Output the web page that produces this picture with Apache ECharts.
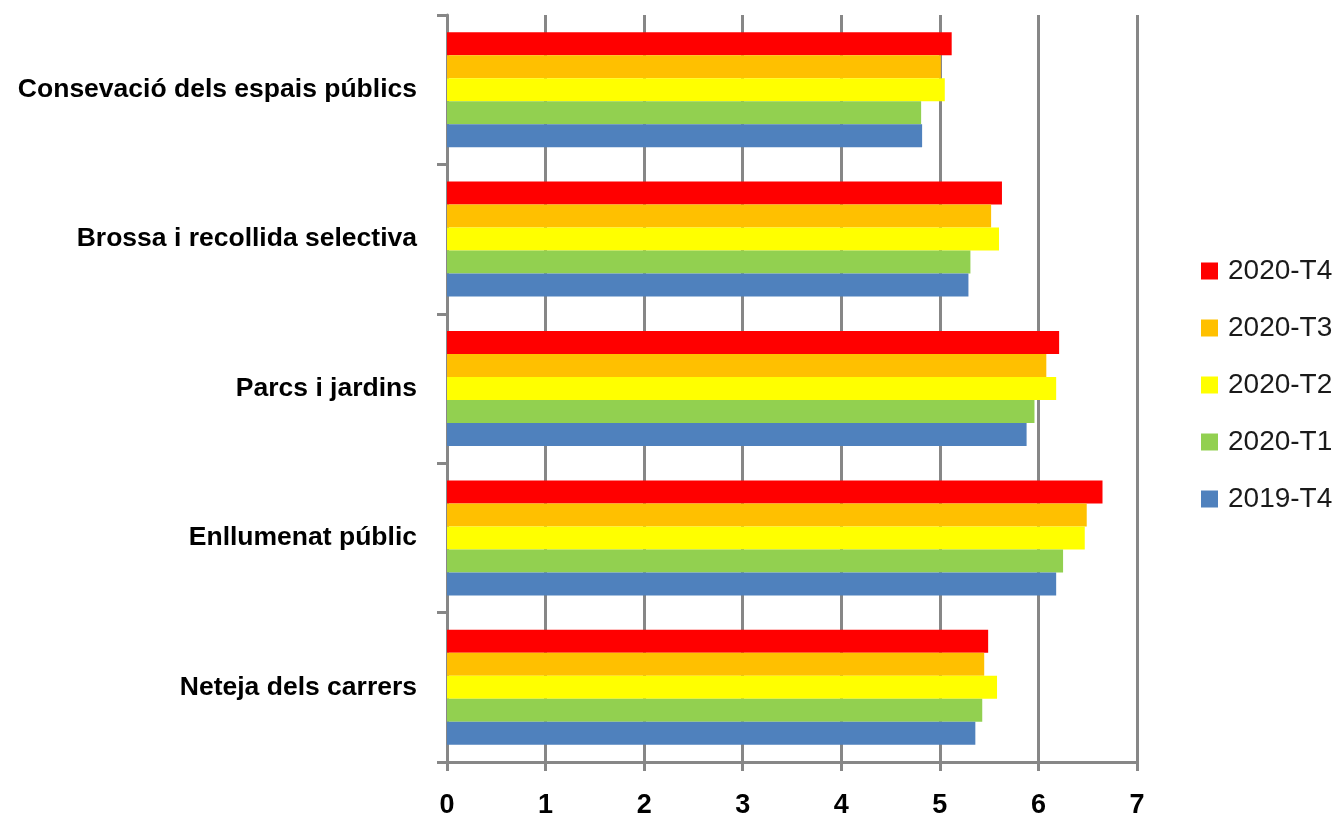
<!DOCTYPE html>
<html>
<head>
<meta charset="utf-8">
<script src="https://cdn.jsdelivr.net/npm/echarts@6/dist/echarts.min.js"></script>
<style>
  html, body { margin: 0; padding: 0; background: #fff; }
  #chart { width: 1334px; height: 819px; }
</style>
</head>
<body>
<div id="chart"></div>
<script>
// Categories listed bottom to top along the vertical axis
const categories = [
  'Neteja dels carrers',
  'Enllumenat públic',
  'Parcs i jardins',
  'Brossa i recollida selectiva',
  'Consevació dels espais públics'
];

// Ratings per period, same order as categories
const v2019T4 = [5.36, 6.18, 5.88, 5.29, 4.82];
const v2020T1 = [5.43, 6.25, 5.96, 5.31, 4.81];
const v2020T2 = [5.58, 6.47, 6.18, 5.60, 5.05];
const v2020T3 = [5.45, 6.49, 6.08, 5.52, 5.01];
const v2020T4 = [5.49, 6.65, 6.21, 5.63, 5.12];

// Newest period first: it sits at the top of each group and of the legend
const seriesNames = ['2020-T4', '2020-T3', '2020-T2', '2020-T1', '2019-T4'];
const seriesValues = [v2020T4, v2020T3, v2020T2, v2020T1, v2019T4];
const seriesColors = ['#FF0000', '#FFC000', '#FFFF00', '#92D050', '#4F81BD'];

const xTicks = [0, 1, 2, 3, 4, 5, 6, 7];

const axisGray = '#878787';
const fontFamily = '"Liberation Sans", Arial, sans-serif';

const chart = echarts.init(document.getElementById('chart'), null, { renderer: 'canvas' });

chart.setOption({
  animation: false,
  backgroundColor: '#ffffff',
  grid: { left: 447, right: 197, top: 15, bottom: 54, containLabel: false },
  legend: {
    orient: 'vertical',
    left: 1196,
    top: 252,
    itemWidth: 17,
    itemHeight: 17,
    itemGap: 29,
    icon: 'rect',
    data: seriesNames,
    textStyle: {
      fontFamily: fontFamily,
      fontSize: 28,
      color: '#1a1a1a',
      lineHeight: 28,
      padding: [0, 0, 0, 5]
    }
  },
  xAxis: {
    type: 'value',
    min: xTicks[0],
    max: xTicks[xTicks.length - 1],
    interval: 1,
    axisLine: { show: true, lineStyle: { color: axisGray, width: 3 } },
    axisTick: { show: true, length: 9, lineStyle: { color: axisGray, width: 3 } },
    splitLine: { show: true, lineStyle: { color: axisGray, width: 3 } },
    axisLabel: {
      margin: 30,
      fontFamily: fontFamily,
      fontSize: 27,
      fontWeight: 'bold',
      color: '#000'
    }
  },
  yAxis: {
    type: 'category',
    data: categories,
    axisLine: { show: true, lineStyle: { color: axisGray, width: 3 } },
    axisTick: { show: true, length: 10, alignWithLabel: false, lineStyle: { color: axisGray, width: 3 } },
    axisLabel: {
      margin: 30,
      fontFamily: fontFamily,
      fontSize: 26.5,
      fontWeight: 'bold',
      color: '#000',
      verticalAlign: 'middle',
      lineHeight: 34,
      padding: [8, 0, 0, 0]
    }
  },
  series: seriesNames.map((name, i) => ({
    name: name,
    type: 'bar',
    z: 10,
    data: seriesValues[i],
    barGap: '0%',
    barCategoryGap: '23%',
    itemStyle: { color: seriesColors[i], opacity: 1, borderWidth: 0 }
  }))
});
</script>
</body>
</html>
